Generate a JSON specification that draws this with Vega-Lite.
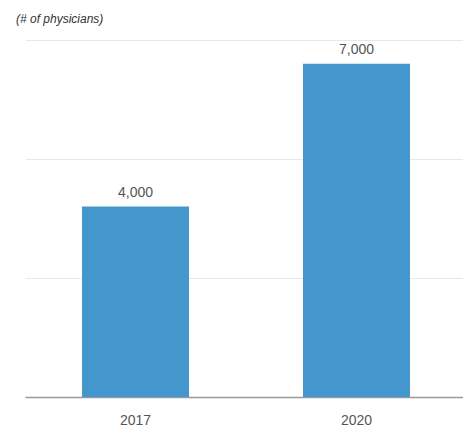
{
  "$schema": "https://vega.github.io/schema/vega-lite/v6.json",
  "autosize": "none",
  "width": 438,
  "height": 357,
  "padding": {"left": 25, "top": 40, "right": 0, "bottom": 38},
  "background": "white",
  "title": {
    "text": "(# of physicians)",
    "anchor": "start",
    "dx": -9,
    "offset": 14,
    "font": "Liberation Sans",
    "fontSize": 12,
    "fontStyle": "italic",
    "fontWeight": "normal",
    "color": "#333333"
  },
  "config": {
    "view": {"stroke": null},
    "font": "Liberation Sans"
  },
  "data": {
    "values": [
      {"year": "2017", "physicians": 4000},
      {"year": "2020", "physicians": 7000}
    ]
  },
  "encoding": {
    "x": {
      "field": "year",
      "type": "nominal",
      "scale": {"range": [0, 442], "paddingInner": 0.516, "paddingOuter": 0.258},
      "axis": {
        "title": null,
        "labelAngle": 0,
        "labelFont": "Liberation Sans",
        "labelFontSize": 14,
        "labelColor": "#555555",
        "labelPadding": 16,
        "ticks": false,
        "domainColor": "#9a9a9a",
        "domainWidth": 1.5
      }
    },
    "y": {
      "field": "physicians",
      "type": "quantitative",
      "scale": {"domain": [0, 7500]},
      "axis": {
        "title": null,
        "labels": false,
        "ticks": false,
        "domain": false,
        "values": [2500, 5000, 7500],
        "gridColor": "#e8e8e8",
        "gridWidth": 1
      }
    }
  },
  "layer": [
    {"mark": {"type": "bar", "color": "#4397cc"}},
    {
      "mark": {
        "type": "text",
        "baseline": "alphabetic",
        "dy": -10,
        "font": "Liberation Sans",
        "fontSize": 14,
        "color": "#555555"
      },
      "encoding": {
        "text": {"field": "physicians", "type": "quantitative", "format": ","}
      }
    }
  ]
}
